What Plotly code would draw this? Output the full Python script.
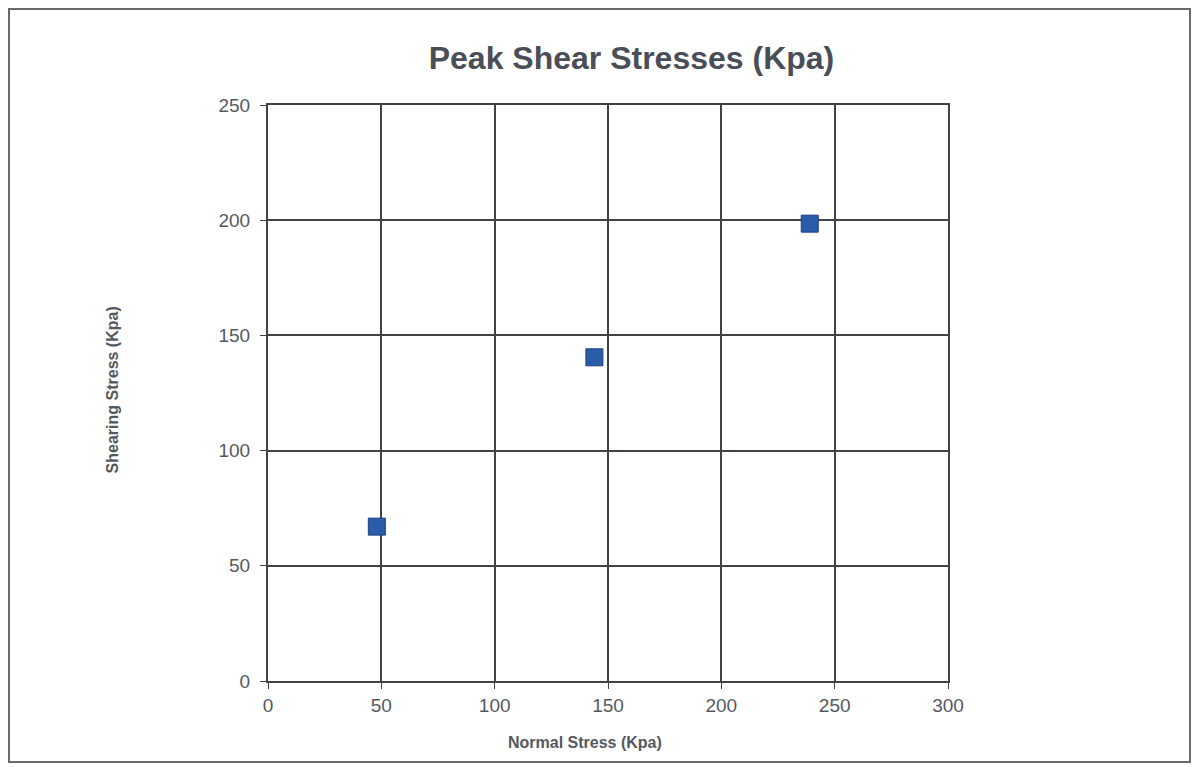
import plotly.graph_objects as go

normal_stress = [48, 144, 239]
shear_stress = [67, 140.5, 198.5]

x_ticks = [0, 50, 100, 150, 200, 250, 300]
y_ticks = [0, 50, 100, 150, 200, 250]

grid_color = "#3f4246"
text_color = "#55595f"

fig = go.Figure()
fig.add_trace(
    go.Scatter(
        x=normal_stress,
        y=shear_stress,
        mode="markers",
        marker=dict(symbol="square", size=17, color="#2a5caa",
                    line=dict(color="#1d3f80", width=1)),
        showlegend=False,
    )
)

fig.update_layout(
    width=1199,
    height=767,
    paper_bgcolor="white",
    plot_bgcolor="white",
    margin=dict(l=260, r=259, t=97, b=94),
    title=dict(
        text="<b>Peak Shear Stresses (Kpa)</b>",
        x=0.52,
        xanchor="center",
        y=0.935,
        yanchor="middle",
        font=dict(family="Liberation Sans, Arial", size=32, color="#4a4e57"),
    ),
    font=dict(family="Liberation Sans, Arial", color=text_color),
)

fig.update_xaxes(
    range=[0, 300],
    tickvals=x_ticks,
    showgrid=True,
    gridcolor=grid_color,
    gridwidth=2,
    showline=True,
    linecolor=grid_color,
    linewidth=2,
    mirror=True,
    zeroline=False,
    ticks="outside",
    ticklen=6,
    tickcolor=grid_color,
    tickfont=dict(size=19, color=text_color),
)
fig.update_yaxes(
    range=[0, 250],
    tickvals=y_ticks,
    showgrid=True,
    gridcolor=grid_color,
    gridwidth=2,
    showline=True,
    linecolor=grid_color,
    linewidth=2,
    mirror=True,
    zeroline=False,
    ticks="outside",
    ticklen=6,
    tickcolor=grid_color,
    ticklabelstandoff=6,
    tickfont=dict(size=19, color=text_color),
)

# axis titles
fig.add_annotation(
    text="<b>Normal Stress (Kpa)</b>", xref="paper", yref="paper",
    x=0.466, y=-0.106, showarrow=False, xanchor="center", yanchor="middle",
    font=dict(size=16, color=text_color),
)
fig.add_annotation(
    text="<b>Shearing Stress (Kpa)</b>", xref="paper", yref="paper",
    x=-0.229, y=0.505, showarrow=False, xanchor="center", yanchor="middle",
    textangle=-90, font=dict(size=16, color=text_color),
)

# outer chart border
fig.add_shape(
    type="rect", xref="paper", yref="paper",
    x0=-259 / 680, x1=(1182 - 260) / 680, y0=-81 / 576, y1=1 + 96 / 576,
    line=dict(color="#6a6a6a", width=2), fillcolor="rgba(0,0,0,0)", layer="below",
)

fig.write_html("out.html")
